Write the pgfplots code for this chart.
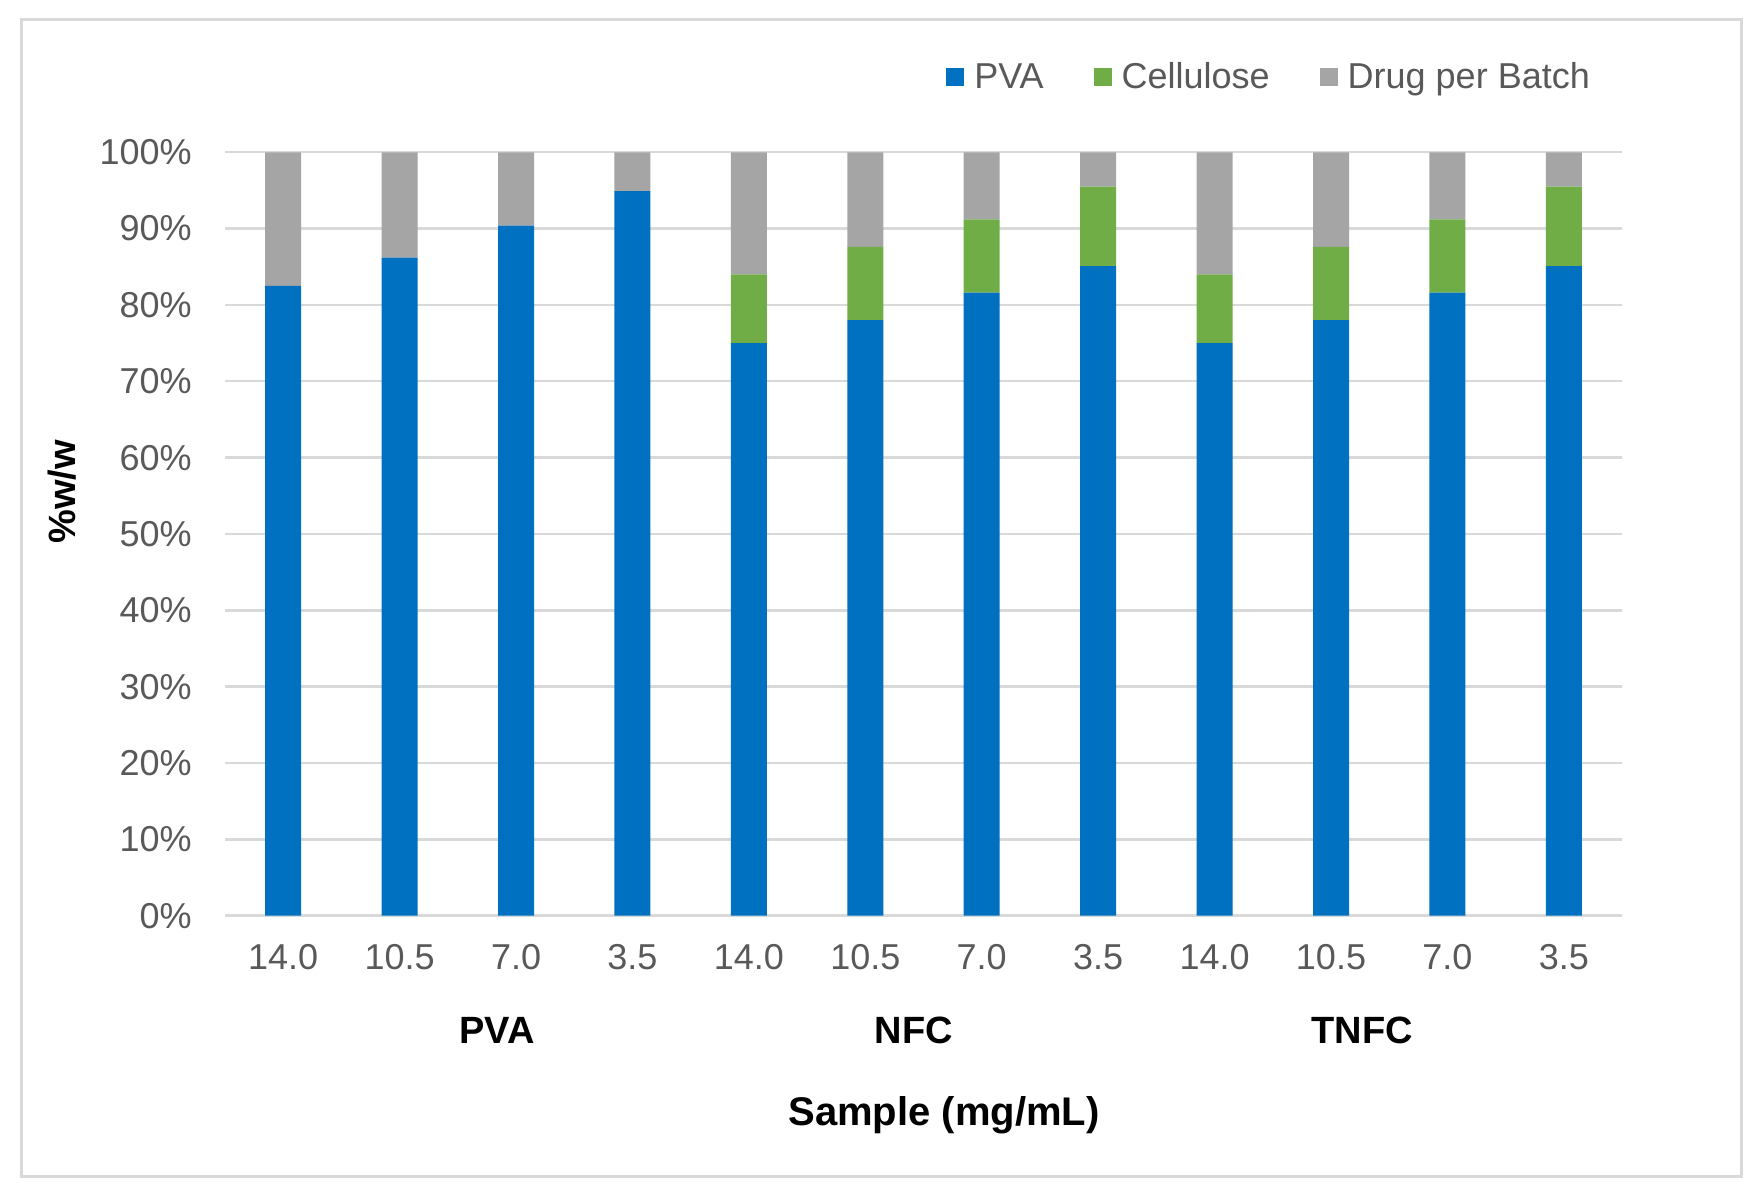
\documentclass[border=0pt]{standalone}
\usepackage{pgfplots}
\pgfplotsset{compat=1.18}
\usepackage{fontspec}
\setmainfont{Liberation Sans}
\definecolor{cblue}{HTML}{0070C0}
\definecolor{cgreen}{HTML}{70AD47}
\definecolor{cgray}{HTML}{A5A5A5}
\definecolor{ctext}{HTML}{595959}
\definecolor{cgrid}{HTML}{D9D9D9}
\begin{document}
\begin{tikzpicture}
\begin{scope}[x=0.5bp,y=0.5bp]
\useasboundingbox (0,0) rectangle (1764,1195);
\fill[white] (0,0) rectangle (1764,1195);
\draw[cgrid, line width=1.5bp] (21,18) rectangle (1741,1175);
\end{scope}
\begin{axis}[
  at={(112.5bp,139.65bp)}, anchor=south west,
  scale only axis, width=698.5bp, height=381.7bp,
  ybar stacked, bar width=18bp,
  xmin=-0.5, xmax=11.5, ymin=0, ymax=100,
  xtick={0,...,11},
  xticklabels={14.0,10.5,7.0,3.5,14.0,10.5,7.0,3.5,14.0,10.5,7.0,3.5},
  ytick={0,10,...,100},
  yticklabels={0\%,10\%,20\%,30\%,40\%,50\%,60\%,70\%,80\%,90\%,100\%},
  ticklabel style={font=\fontsize{18bp}{20bp}\selectfont, text=ctext, inner sep=0pt},
  xticklabel style={anchor=center, yshift=-20.5bp},
  yticklabel style={anchor=east, xshift=-16.5bp},
  axis line style={draw=none},
  major tick style={draw=none},
  ymajorgrids, grid style={cgrid, line width=1.2bp},
  legend columns=-1,
  legend style={at={(0.516,1.098)}, anchor=west, draw=none, fill=none,
    inner sep=0pt, font=\fontsize{18bp}{20bp}\selectfont, text=ctext,
    /tikz/every even column/.append style={column sep=20bp},
    nodes={inner xsep=5bp, inner ysep=0pt}},
  legend image code/.code={\fill[#1] (0bp,-4.5bp) rectangle (9bp,4.5bp);},
]
\addplot[fill=cblue, draw=none] coordinates {
 (0,82.5) (1,86.2) (2,90.4) (3,94.9)
 (4,75.0) (5,78.0) (6,81.6) (7,85.1)
 (8,75.0) (9,78.0) (10,81.6) (11,85.1)};
\addlegendentry{PVA}
\addplot[fill=cgreen, draw=none] coordinates {
 (0,0) (1,0) (2,0) (3,0)
 (4,9.0) (5,9.6) (6,9.6) (7,10.4)
 (8,9.0) (9,9.6) (10,9.6) (11,10.4)};
\addlegendentry{Cellulose}
\addplot[fill=cgray, draw=none] coordinates {
 (0,17.5) (1,13.8) (2,9.6) (3,5.1)
 (4,16.0) (5,12.4) (6,8.8) (7,4.5)
 (8,16.0) (9,12.4) (10,8.8) (11,4.5)};
\addlegendentry{Drug per Batch}
\end{axis}
\begin{scope}[x=0.5bp,y=0.5bp]
\node[rotate=90, font=\fontsize{19bp}{21bp}\selectfont\bfseries] at (62,703) {\%w/w};
\node[font=\fontsize{19bp}{21bp}\selectfont\bfseries] at (497,165) {PVA};
\node[font=\fontsize{19bp}{21bp}\selectfont\bfseries] at (914,165) {NFC};
\node[font=\fontsize{19bp}{21bp}\selectfont\bfseries] at (1362,165) {TNFC};
\node[font=\fontsize{20bp}{22bp}\selectfont\bfseries] at (944,80) {Sample (mg/mL)};
\end{scope}
\end{tikzpicture}
\end{document}
